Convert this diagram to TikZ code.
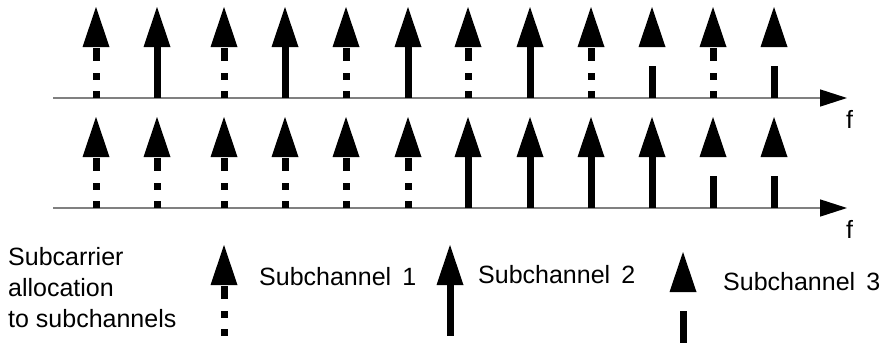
\documentclass[tikz,border=0pt]{standalone}
\usepackage{fontspec}
\setmainfont{Liberation Sans}
\usetikzlibrary{arrows.meta}
\tikzstyle{axis}=[draw=gray, line width=1.5pt, -{Triangle[length=27pt,width=17pt,color=black]}]
\tikzstyle{shaft}=[line width=7pt]
\tikzstyle{txt}=[inner sep=0pt, font=\fontsize{25}{31}\selectfont]
% one subcarrier: x, y of its axis, kind (1 dotted, 2 long, 3 short)
\newcommand{\carrier}[3]{%
  \fill (#1-13.5,#2-51) -- (#1+13.5,#2-51) -- (#1,#2-91) -- cycle;
  \ifcase#3\or
    \foreach \a/\b in {50/37,25/18,7/0} \draw[shaft] (#1,#2-\a) -- (#1,#2-\b);
  \or
    \draw[shaft] (#1,#2-51) -- (#1,#2);
  \or
    \draw[shaft] (#1,#2-32) -- (#1,#2);
  \fi}

\begin{document}
\begin{tikzpicture}[x=1pt, y=-1pt]
    \useasboundingbox (0,0) rectangle (886,343);
    % frequency axes
    \coordinate (f1s) at (53,98);
    \coordinate (f1e) at (847,98);
    \coordinate (f2s) at (53,208);
    \coordinate (f2e) at (847,208);
    \draw[axis] (f1s) -- (f1e);
    \draw[axis] (f2s) -- (f2e);
    \node[txt, anchor=base west] (f1) at (846,128) {f};
    \node[txt, anchor=base west] (f2) at (846,238) {f};
    % first allocation
    \foreach \x/\k in {96/1,157/2,224/1,285/2,346/1,408/2,468/1,530/2,591/1,652/3,713/1,774/3}
        {\carrier{\x}{98}{\k}}
    % second allocation
    \foreach \x/\k in {96/1,157/1,224/1,285/1,346/1,408/1,468/2,530/2,591/2,652/2,713/3,774/3}
        {\carrier{\x}{208}{\k}}
    % legend
    \node[txt, anchor=north west, align=left] (alloc) at (8,247) {Subcarrier\\allocation\\to subchannels};
    \carrier{224}{336}{1}
    \node[txt, anchor=base west] (sub1) at (259,285) {Subchannel\hspace{0.45em}1};
    \carrier{450}{336}{2}
    \node[txt, anchor=base west] (sub2) at (478,283) {Subchannel\hspace{0.45em}2};
    \carrier{683}{343}{3}
    \node[txt, anchor=base west] (sub3) at (723,290) {Subchannel\hspace{0.45em}3};
\end{tikzpicture}
\end{document}
